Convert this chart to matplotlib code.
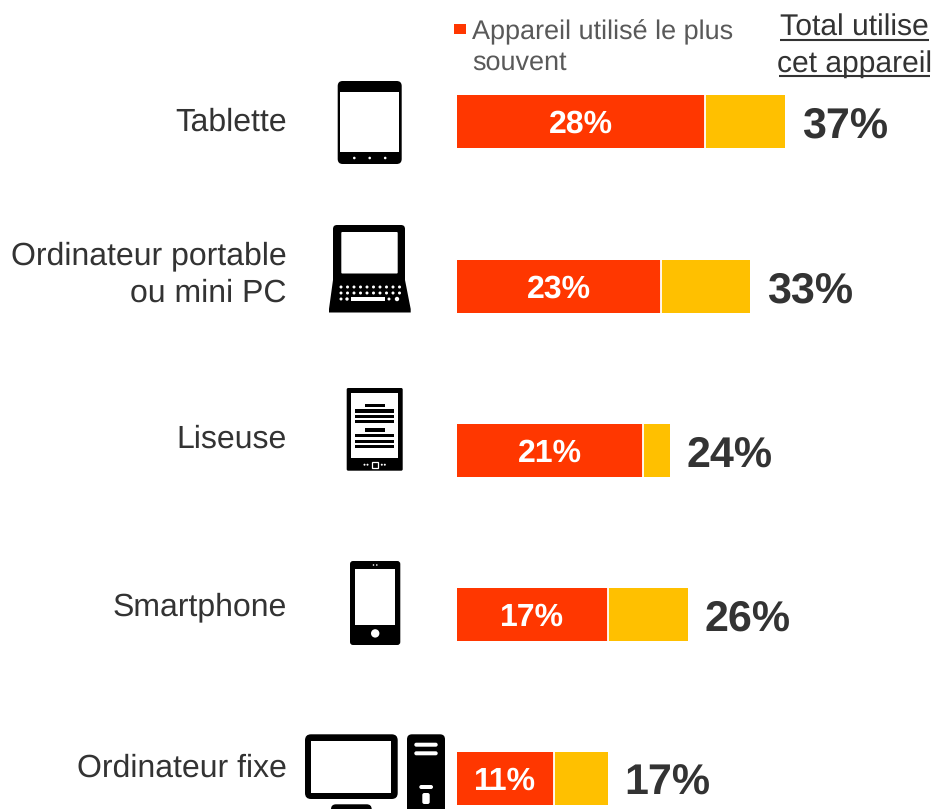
import matplotlib
matplotlib.use("Agg")
import matplotlib.pyplot as plt
from matplotlib.patches import FancyBboxPatch, Rectangle, Polygon, Circle

plt.rcParams['font.family'] = ['Liberation Sans', 'DejaVu Sans']
plt.rcParams['text.hinting'] = 'none'
plt.rcParams['text.hinting_factor'] = 1

# data
devices = ["Tablette", "Ordinateur portable\nou mini PC", "Liseuse", "Smartphone", "Ordinateur fixe"]
most_used = [28, 23, 21, 17, 11]
total_used = [37, 33, 24, 26, 17]
legend_lines = ["Appareil utilisé le plus", "souvent"]
total_lines = ["Total utilise", "cet appareil"]

RED = "#FF3700"
YELLOW = "#FFC000"
DARK = "#333333"
GREY = "#595959"
W, H = 933, 809
PX = 8.89  # pixels per percent
X0 = 456.5
bar_y = [121.5, 286, 450, 614.5, 778.5]
bar_h = 53

fig = plt.figure(figsize=(W / 100, H / 100), dpi=100)

# axes for the bars, x is in percent
ax = fig.add_axes([0, 0, 1, 1])
ax.set_xlim(-X0 / PX, (W - X0) / PX)
ax.set_ylim(H, 0)
ax.axis("off")

# px axes on top for icons and text
px = fig.add_axes([0, 0, 1, 1])
px.set_xlim(0, W)
px.set_ylim(H, 0)
px.axis("off")
px.patch.set_alpha(0)


def rbox(x0, y0, x1, y1, r=2, color="black"):
    px.add_patch(FancyBboxPatch((x0 + r, y0 + r), x1 - x0 - 2 * r, y1 - y0 - 2 * r,
                                boxstyle="round,pad=%g,rounding_size=%g" % (r, r),
                                fc=color, ec="none"))


def rect(x0, y0, x1, y1, color="white"):
    px.add_patch(Rectangle((x0, y0), x1 - x0, y1 - y0, fc=color, ec="none"))


def dot(x, y, r, color="white"):
    px.add_patch(Circle((x, y), r, fc=color, ec="none"))


def tablet():
    rbox(337.7, 81, 401.7, 164, r=5)
    rect(340.4, 91.7, 399, 152)
    for x in [354.3, 369.7, 385.2]:
        dot(x, 158, 1.3)


def laptop():
    rbox(333, 225, 405, 284, r=4)
    px.add_patch(Polygon([(333, 280), (405, 280), (410.7, 309), (410.7, 312.5), (329, 312.5), (329, 309)],
                         fc="black", ec="none"))
    rbox(341.3, 232, 397.7, 273.5, r=1, color="white")
    for y in [287, 293]:
        for i in range(10):
            dot(341 + i * 6.5, y, 1.5)
    dot(341, 299, 1.5)
    dot(347, 299, 1.7)
    rect(351, 297, 384.5, 301)
    dot(389, 299, 1.5)
    dot(397, 299, 2.2)


def ereader():
    rbox(346.7, 388, 402.7, 470.7, r=1.5)
    rect(351.3, 393.3, 398, 457.7)
    for y in [405.7, 430]:
        rect(364.7, y - 1.7, 384.7, y + 1.7, "black")
    for y in [411, 416.3, 421.7, 435.7, 441.3, 446.7]:
        rect(355.3, y - 1.7, 394.3, y + 1.7, "black")
    px.add_patch(Rectangle((371.6, 461.6), 6.2, 6.2, fc="black", ec="white", lw=0.9))
    for x in [364.5, 367.5, 381.8, 384.8]:
        dot(x, 464.7, 1)


def phone():
    rbox(350, 561, 400.3, 645, r=3)
    rect(355.3, 568.7, 395.3, 625.3)
    dot(375.2, 633.4, 4.2)
    for x in [373.5, 376.8]:
        dot(x, 565, 0.8)


def desktop():
    rbox(305, 734.3, 397.7, 799, r=6)
    rect(311.3, 741, 391.3, 792.7)
    rbox(331, 804.3, 371.7, 825, r=5)
    rbox(407, 734.3, 445, 825, r=5)
    rbox(414.3, 742.7, 437.7, 746.7, r=2, color="white")
    rbox(414.3, 751.3, 437.7, 755.3, r=2, color="white")
    rbox(419.3, 785, 433, 789, r=2, color="white")
    rbox(422.3, 793, 429.7, 804, r=2, color="white")


tablet()
laptop()
ereader()
phone()
desktop()

# bars
ax.barh(bar_y, most_used, height=bar_h, color=RED, linewidth=0)
ax.barh(bar_y, [t - m for t, m in zip(total_used, most_used)], left=most_used, height=bar_h,
        color=YELLOW, linewidth=0)
for y, m in zip(bar_y, most_used):
    ax.plot([m, m], [y - bar_h / 2, y + bar_h / 2], color="white", lw=1.3, solid_capstyle="butt")

for y, m, t in zip(bar_y, most_used, total_used):
    ax.text(m / 2, y + 11.5, "%d%%" % m, color="white", fontsize=23, fontweight="bold",
            ha="center", va="baseline")
    ax.text(t + 1.9, y + 16.5, "%d%%" % t, color=DARK, fontsize=31, fontweight="bold",
            ha="left", va="baseline")

# device names
label_base = [[131], [264, 301.5], [448], [615.5], [777]]
for name, bases in zip(devices, label_base):
    for line, b in zip(name.split("\n"), bases):
        px.text(287, b, line, color=DARK, fontsize=22.9, ha="right", va="baseline")

# legend and header
rect(454, 24, 465.7, 34.3, RED)
px.text(472, 39, legend_lines[0], color=GREY, fontsize=19.1, va="baseline")
px.text(472, 69.5, legend_lines[1], color=GREY, fontsize=19.1, va="baseline")

px.text(854.5, 36, total_lines[0], color=DARK, fontsize=21.6, ha="center", va="baseline")
px.text(854.5, 72, total_lines[1], color=DARK, fontsize=21.3, ha="center", va="baseline")
px.plot([780, 929], [40, 40], color=DARK, lw=1.5, solid_capstyle="butt")
px.plot([778.5, 930], [76, 76], color=DARK, lw=1.5, solid_capstyle="butt")

fig.savefig("out.png", dpi=100)
